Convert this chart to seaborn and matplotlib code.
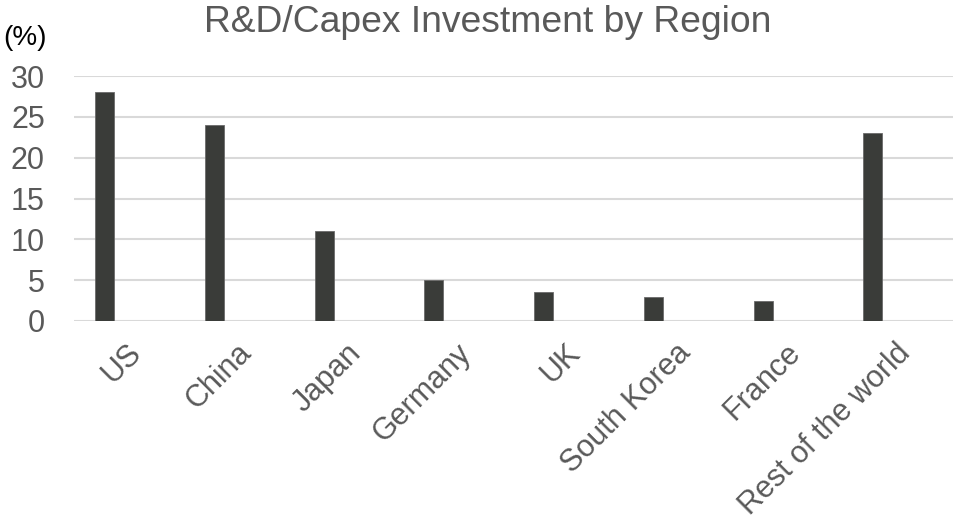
import matplotlib
matplotlib.use("Agg")
import matplotlib.pyplot as plt
import matplotlib.transforms as mtransforms
import seaborn as sns
import pandas as pd

categories = ["US", "China", "Japan", "Germany", "UK", "South Korea", "France", "Rest of the world"]
values = [28, 24, 11, 5, 3.5, 3, 2.5, 23]
yticks = [0, 5, 10, 15, 20, 25, 30]

sns.set_theme(style="white")
plt.rcParams['font.family'] = ['Liberation Sans', 'DejaVu Sans']

df = pd.DataFrame({"region": categories, "value": values})

fig = plt.figure(figsize=(9.55, 5.28), dpi=100)
ax = fig.add_axes([74/955, 1-321/528, (953-74)/955, (321-76)/528])

sns.barplot(data=df, x="region", y="value", color="#3a3c39", width=0.173,
            saturation=1, ax=ax, zorder=3)
for p in ax.patches:
    p.set_edgecolor("#6a6a6a")
    p.set_linewidth(0.6)

ax.set_ylim(0, 30)
ax.set_xlim(-0.28, 7.73)
ax.set_yticks(yticks)
ax.yaxis.grid(True, color="#d9d9d9", linewidth=1.5, zorder=0)
ax.set_axisbelow(True)
for s in ax.spines.values():
    s.set_visible(False)
ax.set_xlabel("")
ax.set_ylabel("")
ax.tick_params(axis="both", length=0, colors="#595959", labelsize=22)
ax.tick_params(axis="y", pad=21)
ax.tick_params(axis="x", pad=12, labelsize=22)
offset = mtransforms.ScaledTranslation(22/100, 0, fig.dpi_scale_trans)
for lab in ax.get_xticklabels():
    lab.set_rotation(45)
    lab.set_ha("right")
    lab.set_va("top")
    lab.set_rotation_mode("anchor")
    lab.set_transform(lab.get_transform() + offset)

fig.text(488/955, 1-22/528, "R&D/Capex Investment by Region", ha="center", va="center",
         fontsize=26.8, color="#595959")
fig.text(3/955, 1-38/528, "(%)", ha="left", va="center", fontsize=20, color="#000000")

fig.savefig("out.png", dpi=100)
